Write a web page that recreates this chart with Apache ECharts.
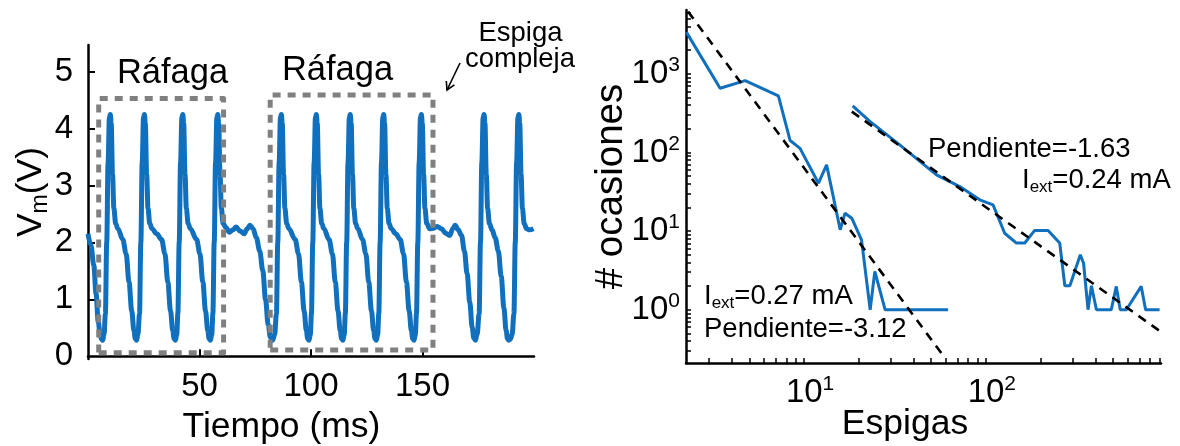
<!DOCTYPE html>
<html><head><meta charset="utf-8">
<script src="https://cdn.jsdelivr.net/npm/echarts@6/dist/echarts.min.js"></script>
<style>html,body{margin:0;padding:0;background:#fff}#c{width:1180px;height:446px}</style>
</head><body><div id="c"></div>
<script>
// ---- Left panel: membrane potential trace ----
const timeMs = [0,1.3,2.6,3.6,4.6,5.4,6.0,6.6,7.2,7.8,8.4,9.0,9.6,10.0,10.4,11.0,11.6,12.4,13.4,15.6,17.1,18.4,19.6,20.6,21.2,21.8,22.4,23.1,23.7,24.3,24.9,25.3,
  25.7,26.3,26.9,27.7,28.7,30.8,33.0,34.5,35.8,37.0,38.0,38.6,39.2,39.8,40.3,40.9,41.5,42.1,42.5,
  42.9,43.5,44.1,44.9,45.9,48.7,50.2,51.5,52.7,53.7,54.3,54.9,55.5,56.0,56.6,57.2,57.8,58.2,
  58.6,59.2,59.8,60.6,61.8,63.4,65.0,66.4,68.2,70.0,71.4,72.6,74.0,75.5,77.0,78.4,79.6,80.8,81.8,82.8,83.7,84.5,85.1,85.7,86.3,86.7,
  87.1,87.7,88.3,89.1,90.1,92.9,94.4,95.7,96.9,97.9,98.5,99.1,99.7,100.2,100.8,101.4,102.0,102.4,
  102.8,103.4,104.0,104.8,105.8,108.1,109.6,110.9,112.1,113.1,113.7,114.3,114.9,115.4,116.0,116.6,117.2,117.6,
  118.0,118.6,119.2,120.0,121.0,123.1,124.6,125.9,127.1,128.1,128.7,129.3,129.9,130.4,131.0,131.6,132.2,132.6,
  133.0,133.6,134.2,135.0,136.0,138.0,140.0,141.5,142.8,144.0,145.0,145.6,146.2,146.8,147.3,147.9,148.5,149.1,149.5,
  149.9,150.5,151.1,151.9,153.2,155.0,156.6,158.5,160.4,162.2,163.6,164.6,166.0,167.5,168.8,170.0,171.2,172.3,173.0,173.7,174.5,175.4,176.0,176.6,177.2,177.6,
  178.0,178.6,179.2,180.0,181.2,182.6,184.0,185.3,186.5,187.5,188.1,188.7,189.4,190.2,191.0,191.6,192.2,192.8,193.2,
  193.6,194.2,194.8,195.6,196.7,198.0,199.8];
const vmVolts = [2.15,1.95,1.6,1.1,0.6,0.4,0.3,0.28,0.38,0.75,2.0,3.4,4.2,4.25,4.1,3.2,2.6,2.33,2.24,2.05,1.8,1.3,0.8,0.45,0.31,0.28,0.38,0.75,2.0,3.4,4.2,4.25,
  4.1,3.2,2.6,2.33,2.24,2.15,2.05,1.8,1.3,0.8,0.45,0.31,0.28,0.38,0.75,2.0,3.4,4.2,4.25,
  4.1,3.2,2.6,2.33,2.24,2.05,1.8,1.3,0.8,0.45,0.31,0.28,0.38,0.75,2.0,3.4,4.2,4.25,
  4.1,3.2,2.6,2.33,2.26,2.18,2.22,2.27,2.2,2.15,2.24,2.3,2.24,2.08,1.85,1.5,1.0,0.55,0.33,0.28,0.38,0.75,2.0,3.4,4.2,4.25,
  4.1,3.2,2.6,2.33,2.24,2.05,1.8,1.3,0.8,0.45,0.31,0.28,0.38,0.75,2.0,3.4,4.2,4.25,
  4.1,3.2,2.6,2.33,2.24,2.05,1.8,1.3,0.8,0.45,0.31,0.28,0.38,0.75,2.0,3.4,4.2,4.25,
  4.1,3.2,2.6,2.33,2.24,2.05,1.8,1.3,0.8,0.45,0.31,0.28,0.38,0.75,2.0,3.4,4.2,4.25,
  4.1,3.2,2.6,2.33,2.24,2.15,2.05,1.8,1.3,0.8,0.45,0.31,0.28,0.38,0.75,2.0,3.4,4.2,4.25,
  4.1,3.2,2.6,2.33,2.24,2.25,2.28,2.24,2.16,2.12,2.24,2.3,2.22,2.12,1.85,1.45,0.95,0.5,0.32,0.28,0.38,0.75,2.0,3.4,4.2,4.25,
  4.1,3.2,2.6,2.33,2.22,2.08,1.85,1.4,0.85,0.45,0.31,0.28,0.3,0.38,0.75,2.0,3.4,4.2,4.25,
  4.1,3.2,2.6,2.33,2.24,2.22,2.24];
const timeTicks = [50, 100, 150];
const vmTicks = [0, 1, 2, 3, 4, 5];
// dashed "Ráfaga" boxes: [tStart, vBottom, tEnd, vTop]
const burstBox1 = [4.8, 0.06, 60.8, 4.53];
const burstBox2 = [81.7, 0.11, 154.7, 4.59];

// ---- Right panel: spike-count distributions (log-log) ----
const spikesA = [2.25,3.45,4.74,7.22,8.38,9.5,12.0,13.3,15.8,16.8,18.3,20.7,23.1,24.5,27.9,62];
const countsA = [3400,656,820,524,142,113,40.7,69.6,10.4,16.9,14.6,7.75,1,3.07,1,1];
const spikesB = [18.5,23.1,33.6,53.5,71.9,92.6,109.6,127,147.4,163.7,185.7,220,255,272,290,331,345,365,381,406,490,522,549,593,716,757,904];
const countsB = [391,247,125,51.9,36.9,25,21.6,9.4,7.05,7.05,10.2,10.2,7.05,2.02,2.02,5.0,3.9,1,2.02,1,1,1.98,1,1,1.98,1,1];
const fitA_x = [2.3, 59.6], fitA_y = [6200, 0.243];   // slope -3.12
const fitB_x = [18.3, 912], fitB_y = [331, 0.53];     // slope -1.63
const logMajor = [1, 10, 100, 1000];
const logMinorY = [0.3,0.4,0.5,0.6,0.7,0.8,0.9,1,2,3,4,5,6,7,8,9,10,20,30,40,50,60,70,80,90,100,200,300,400,500,600,700,800,900,1000,2000,3000,4000,5000,6000];
const logMinorX = [3,4,5,6,7,8,9,10,20,30,40,50,60,70,80,90,100,200,300,400,500,600,700,800,900];

const FONT = '"Liberation Sans", Arial, sans-serif';
const BLUE = '#1170BD';
const GRAY = '#808080';
const zip = (a, b) => a.map((v, i) => [v, b[i]]);
const boxPath = b => [[b[0],b[1]],[b[2],b[1]],[b[2],b[3]],[b[0],b[3]],[b[0],b[1]]];
const pow = v => Math.round(Math.log10(v));

const TICKFS = 33;
const axisLineStyle = {color:'#000', width:2.5};
const option = {
  animation: false,
  backgroundColor: '#fff',
  textStyle: {fontFamily: FONT},
  grid: [
    {left: 88, top: 45, width: 446, height: 314, containLabel: false, outerBoundsMode: 'none'},
    {left: 686, top: 10, width: 475, height: 353, containLabel: false, outerBoundsMode: 'none'}
  ],
  xAxis: [
    {gridIndex: 0, type: 'value', min: 0, max: 200,
     name: 'Tiempo (ms)', nameLocation: 'middle', nameGap: 50, nameMoveOverlap: false,
     nameTextStyle: {fontSize: 35.5, color: '#000', fontFamily: FONT, padding: [0, 59, 0, 0]},
     axisLine: {lineStyle: axisLineStyle},
     axisTick: {inside: true, length: 7, customValues: timeTicks, lineStyle: {color:'#000', width: 2}},
     axisLabel: {customValues: timeTicks, fontSize: TICKFS, color: '#000', margin: 11, fontFamily: FONT},
     splitLine: {show: false}},
    {gridIndex: 1, type: 'log', logBase: 10, min: 2.24, max: 920,
     name: 'Espigas', nameLocation: 'middle', nameGap: 43, nameMoveOverlap: false,
     nameTextStyle: {fontSize: 35.5, color: '#000', fontFamily: FONT, padding: [0, 37, 0, 0]},
     axisLine: {lineStyle: axisLineStyle},
     axisTick: {inside: true, length: 5, customValues: logMinorX, lineStyle: {color:'#000', width: 1.5}},
     axisLabel: {customValues: [10, 100], color: '#000', margin: 11,
       formatter: v => '{pad|}{n|10}{sup|' + pow(v) + '}',
       rich: {pad: {width: 12}, n: {fontSize: TICKFS, fontFamily: FONT, color: '#000'},
              sup: {fontSize: 21, padding: [0, 0, 17, 0], fontFamily: FONT, color: '#000'}}},
     splitLine: {show: false}, minorTick: {show: false}}
  ],
  yAxis: [
    {gridIndex: 0, type: 'value', min: -0.05, max: 5.47,
     name: '{n|V}{sub|m}{n|(V)}', nameLocation: 'middle', nameGap: 36, nameMoveOverlap: false,
     nameTextStyle: {color: '#000', fontFamily: FONT, padding: [0, 0, 0, 20],
       rich: {n: {fontSize: 35.5, fontFamily: FONT, color: '#000'},
              sub: {fontSize: 23, padding: [18, 0, 0, 0], fontFamily: FONT, color: '#000'}}},
     axisLine: {lineStyle: axisLineStyle},
     axisTick: {inside: true, length: 7, customValues: [1,2,3,4,5], lineStyle: {color:'#000', width: 2}},
     axisLabel: {customValues: vmTicks, fontSize: TICKFS, color: '#000', margin: 15, fontFamily: FONT},
     splitLine: {show: false}},
    {gridIndex: 1, type: 'log', logBase: 10, min: 0.21, max: 6500,
     name: '# ocasiones', nameLocation: 'middle', nameGap: 55, nameMoveOverlap: false,
     nameTextStyle: {fontSize: 38.5, color: '#000', fontFamily: FONT},
     axisLine: {lineStyle: axisLineStyle},
     axisTick: {inside: true, length: 5, customValues: logMinorY, lineStyle: {color:'#000', width: 1.5}},
     axisLabel: {customValues: logMajor, color: '#000', margin: 6,
       formatter: v => '{n|10}{sup|' + pow(v) + '}',
       rich: {n: {fontSize: TICKFS, fontFamily: FONT, color: '#000'},
              sup: {fontSize: 21, padding: [0, 0, 17, 0], fontFamily: FONT, color: '#000'}}},
     splitLine: {show: false}}
  ],
  series: [
    {type: 'line', xAxisIndex: 0, yAxisIndex: 0, data: zip(timeMs, vmVolts), showSymbol: false,
     smooth: 0.35, smoothMonotone: 'x', lineStyle: {color: BLUE, width: 5}, z: 2},
    {type: 'line', xAxisIndex: 0, yAxisIndex: 0, data: boxPath(burstBox1), showSymbol: false,
     lineStyle: {color: GRAY, width: 5, type: [8, 7], cap: 'butt', join: 'round'}, z: 3},
    {type: 'line', xAxisIndex: 0, yAxisIndex: 0, data: boxPath(burstBox2), showSymbol: false,
     lineStyle: {color: GRAY, width: 5, type: [8, 7], cap: 'butt', join: 'round'}, z: 3},
    {type: 'line', xAxisIndex: 1, yAxisIndex: 1, data: zip(fitA_x, fitA_y), showSymbol: false,
     lineStyle: {color: '#000', width: 2.6, type: [9, 7]}, z: 3},
    {type: 'line', xAxisIndex: 1, yAxisIndex: 1, data: zip(fitB_x, fitB_y), showSymbol: false,
     lineStyle: {color: '#000', width: 2.6, type: [9, 7]}, z: 3},
    {type: 'line', xAxisIndex: 1, yAxisIndex: 1, data: zip(spikesA, countsA), showSymbol: false,
     lineStyle: {color: BLUE, width: 3}, z: 2},
    {type: 'line', xAxisIndex: 1, yAxisIndex: 1, data: zip(spikesB, countsB), showSymbol: false,
     lineStyle: {color: BLUE, width: 3}, z: 2}
  ],
  graphic: [
    {type: 'text', x: 172.5, y: 73, style: {text: 'Ráfaga', font: '34.5px ' + FONT, fill: '#000', align: 'center', verticalAlign: 'middle'}},
    {type: 'text', x: 337.5, y: 70, style: {text: 'Ráfaga', font: '34.5px ' + FONT, fill: '#000', align: 'center', verticalAlign: 'middle'}},
    {type: 'text', x: 520.5, y: 33, style: {text: 'Espiga', font: '27.5px ' + FONT, fill: '#000', align: 'center', verticalAlign: 'middle'}},
    {type: 'text', x: 520, y: 59, style: {text: 'compleja', font: '27.5px ' + FONT, fill: '#000', align: 'center', verticalAlign: 'middle'}},
    {type: 'polyline', shape: {points: [[460, 63], [447, 90]]}, style: {stroke: '#000', lineWidth: 1.6, fill: null}},
    {type: 'polyline', shape: {points: [[446.3, 81], [447, 90], [454.4, 84.9]]}, style: {stroke: '#000', lineWidth: 1.6, fill: null}},
    {type: 'text', x: 704, y: 296, style: {text: 'I{sub|ext}=0.27 mA', font: '27.5px ' + FONT, fill: '#000', align: 'left', verticalAlign: 'middle',
      rich: {sub: {fontSize: 17, padding: [14, 0, 0, 0], fontFamily: FONT, fill: '#000'}}}},
    {type: 'text', x: 704, y: 329, style: {text: 'Pendiente=-3.12', font: '27.5px ' + FONT, fill: '#000', align: 'left', verticalAlign: 'middle'}},
    {type: 'text', x: 928, y: 149, style: {text: 'Pendiente=-1.63', font: '27.5px ' + FONT, fill: '#000', align: 'left', verticalAlign: 'middle'}},
    {type: 'text', x: 1022, y: 180, style: {text: 'I{sub|ext}=0.24 mA', font: '27.5px ' + FONT, fill: '#000', align: 'left', verticalAlign: 'middle',
      rich: {sub: {fontSize: 17, padding: [14, 0, 0, 0], fontFamily: FONT, fill: '#000'}}}}
  ]
};
const chart = echarts.init(document.getElementById('c'));
chart.setOption(option);
</script>
</body></html>
